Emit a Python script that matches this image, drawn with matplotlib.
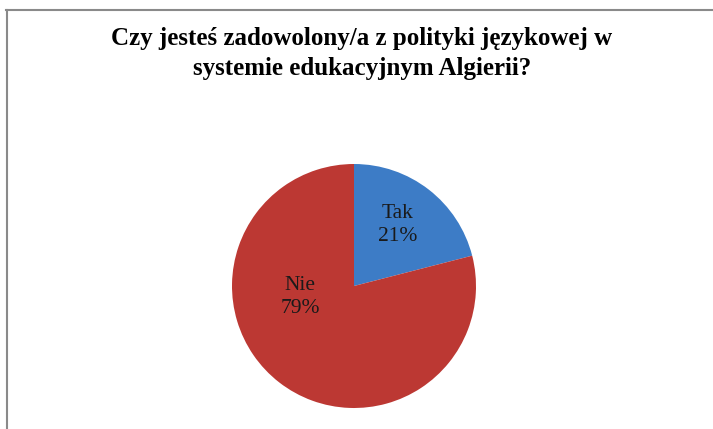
import matplotlib.pyplot as plt
from matplotlib.lines import Line2D

# Survey answers
categories = ["Tak", "Nie"]
shares = [21, 79]
colors = ["#3D7CC6", "#BC3833"]

title_lines = ["Czy jesteś zadowolony/a z polityki językowej w",
               "systemie edukacyjnym Algierii?"]

W, H = 713, 429
fig = plt.figure(figsize=(W / 100, H / 100), dpi=100)
ax = fig.add_axes([0, 0, 1, 1])

# pie, clockwise from 12 o'clock
cx, cy, r = 354, H - 286, 122
ax.pie(shares, colors=colors, startangle=90, counterclock=False,
       center=(cx, cy), radius=r, frame=True,
       wedgeprops=dict(linewidth=0))
ax.set_xlim(0, W)
ax.set_ylim(0, H)
ax.set_aspect("equal")
ax.axis("off")

# slice labels
label_pos = [(398, H - 225), (300, H - 297)]
for cat, val, (lx, ly) in zip(categories, shares, label_pos):
    ax.text(lx, ly, f"{cat}\n{val}%", ha="center", va="center",
            fontsize=15.5, family="Liberation Serif", color="#1a1a1a",
            linespacing=1.3)

# two-line title, baselines at 45 and 75 px from the top
for line, base in zip(title_lines, [45, 75]):
    ax.text(362, H - base, line, ha="center", va="baseline", fontsize=18,
            family="Liberation Serif", fontweight="bold", color="black")

# chart frame: top and left edges only
fig.add_artist(Line2D([6 / W, 1], [1 - 9.5 / H, 1 - 9.5 / H],
                      transform=fig.transFigure, color="#8a8a8a", lw=1.5))
fig.add_artist(Line2D([6.5 / W, 6.5 / W], [0, 1 - 9.5 / H],
                      transform=fig.transFigure, color="#8a8a8a", lw=1.5))

fig.savefig("out.png", dpi=100)
